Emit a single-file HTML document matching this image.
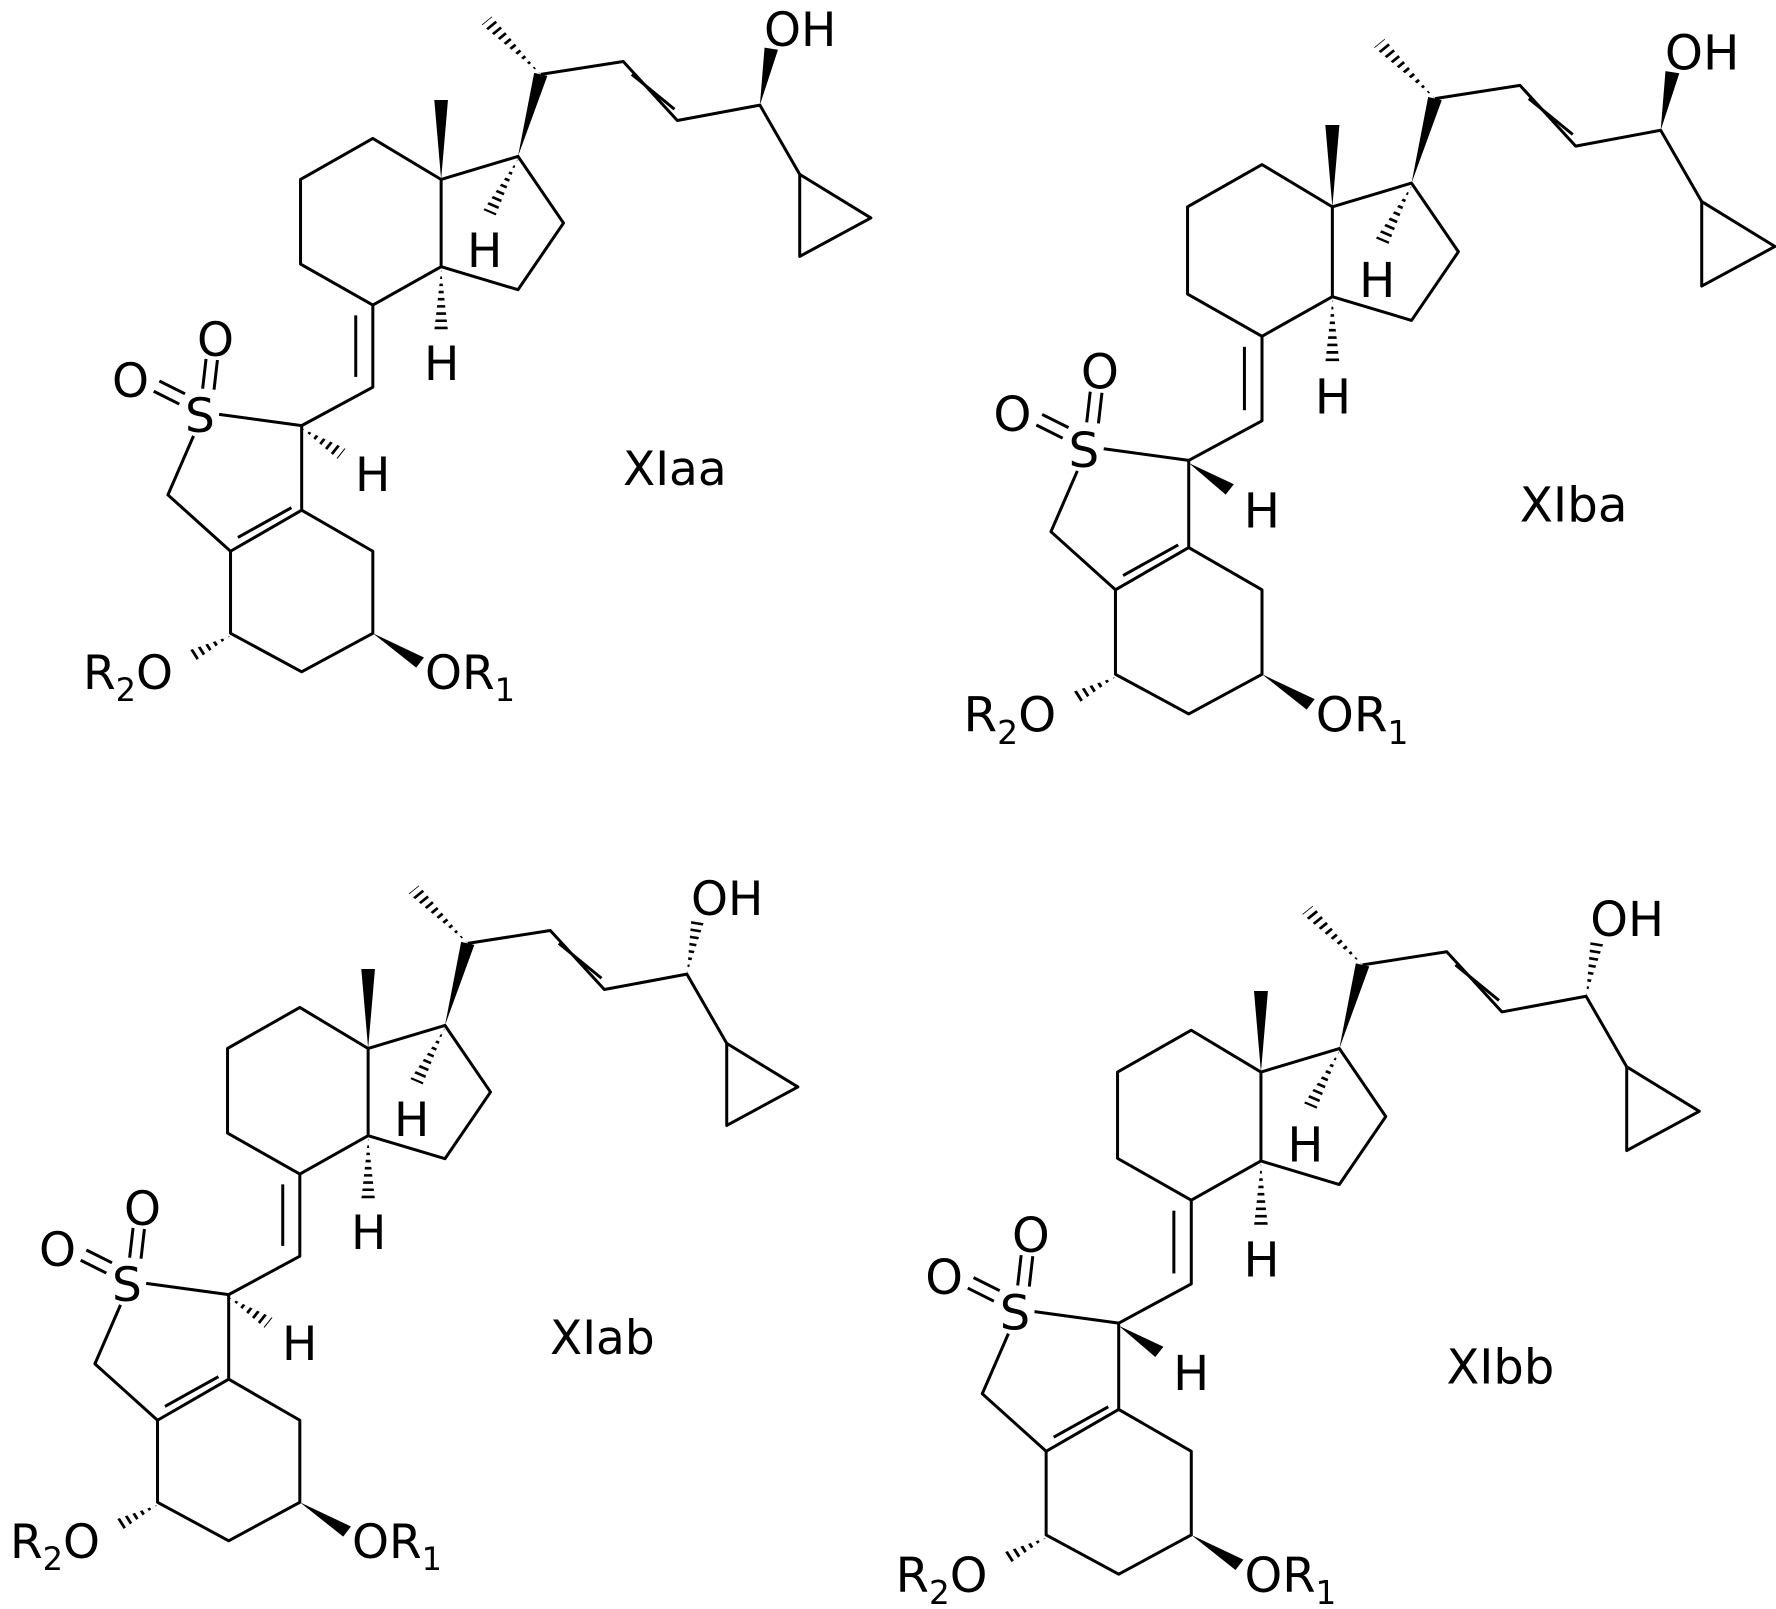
<!DOCTYPE html>
<html><head><meta charset="utf-8"><style>
html,body{margin:0;padding:0;background:#fff;}
svg{display:block;}
text{font-family:"DejaVu Sans","Liberation Sans",sans-serif;fill:#000;}
</style></head><body>
<svg width="1776" height="1609" viewBox="0 0 1776 1609" xmlns="http://www.w3.org/2000/svg">
<defs>
<clipPath id="h1"><polygon points="950,145 846.1,48.05 863.9,31.95"/></clipPath>
<clipPath id="h2"><polygon points="910,310 870.8,420.2 849.2,409.8"/></clipPath>
<clipPath id="h3"><polygon points="775,525 787,645 763,645"/></clipPath>
<clipPath id="h4"><polygon points="530,835 593,894.8 607,875.2"/></clipPath>
<clipPath id="h5"><polygon points="405,1240 341,1290.4 329,1269.6"/></clipPath>
<clipPath id="h6"><polygon points="1335,205 1366.8,97.1 1343.2,92.9"/></clipPath>
<g id="skel">
<g fill="none" stroke="#000" stroke-width="3" stroke-linejoin="round">
<path vector-effect="non-scaling-stroke" d="M950,145 L1095,120 L1190,235 L1335,205 L1405,340"/>
<path vector-effect="non-scaling-stroke" d="M1110,145 L1185,213"/>
<path vector-effect="non-scaling-stroke" d="M1405,340 L1530,425 L1405,500 Z"/>
<path vector-effect="non-scaling-stroke" d="M775,350 L910,305 L990,435 L910,565 L775,520"/>
<path vector-effect="non-scaling-stroke" d="M775,350 L655,270 L528,350 L528,515 L655,595 L775,520 L775,350"/>
<path vector-effect="non-scaling-stroke" d="M655,595 L655,755 L530,830"/>
<path vector-effect="non-scaling-stroke" d="M625,615 L625,735"/>
<path vector-effect="non-scaling-stroke" d="M385,808 L530,830"/>
<path vector-effect="non-scaling-stroke" d="M340,850 L295,965 L405,1075 L530,995 L530,830"/>
<path vector-effect="non-scaling-stroke" d="M418,1048 L512,990"/>
<path vector-effect="non-scaling-stroke" d="M530,995 L655,1075 L655,1235 L530,1310 L405,1235 L405,1075"/>
<path vector-effect="non-scaling-stroke" d="M280,743 L325,768 M270,763 L315,788"/>
<path vector-effect="non-scaling-stroke" d="M362,700 L356,758 M382,702 L376,760"/>
</g>
<g fill="#000">
<polygon points="910,305 961.6,147.9 938.4,142.1"/>
<polygon points="775,350 787,195 763,195"/>
<polygon points="655,1235 731.2,1301.9 744.8,1282.1"/>
</g>
<g stroke="#000" stroke-width="30" stroke-dasharray="5 9">
<line x1="950" y1="145" x2="855" y2="40" clip-path="url(#h1)"/>
<line x1="910" y1="310" x2="860" y2="415" clip-path="url(#h2)"/>
<line x1="775" y1="525" x2="775" y2="645" clip-path="url(#h3)"/>
<line x1="405" y1="1240" x2="335" y2="1280" clip-path="url(#h5)"/>
</g>
</g>
<polygon id="wOH" fill="#000" points="1335,205 1366.8,97.1 1343.2,92.9"/>
<line id="hOH" stroke="#000" stroke-width="30" stroke-dasharray="5 9" x1="1335" y1="205" x2="1355" y2="95" clip-path="url(#h6)"/>
<polygon id="wCH" fill="#000" points="530,835 593,894.8 607,875.2"/>
<line id="hCH" stroke="#000" stroke-width="30" stroke-dasharray="5 9" x1="530" y1="835" x2="600" y2="885" clip-path="url(#h4)"/>
</defs>

<g transform="translate(0,0)">
<g transform="scale(0.5692,0.5128)"><use href="#skel"/><use href="#wOH"/><use href="#hCH"/></g>
<g font-size="47">
<text x="764" y="46">OH</text>
<text x="467" y="267">H</text>
<text x="424" y="380">H</text>
<text x="112" y="397">O</text>
<text x="197" y="356">O</text>
<text x="185" y="432">S</text>
<text x="355" y="491">H</text>
<text x="83" y="689">R<tspan font-size="32" dy="12">2</tspan><tspan dy="-12">O</tspan></text>
<text x="425" y="689">OR<tspan font-size="32" dy="12">1</tspan></text>
<text x="623" y="485">XIaa</text>
</g></g>

<g transform="translate(878,22) scale(1.03)">
<g transform="scale(0.5692,0.5128)"><use href="#skel"/><use href="#wOH"/><use href="#wCH"/></g>
<g font-size="47">
<text x="764" y="46">OH</text>
<text x="467" y="267">H</text>
<text x="424" y="380">H</text>
<text x="112" y="397">O</text>
<text x="197" y="356">O</text>
<text x="185" y="432">S</text>
<text x="355" y="491">H</text>
<text x="83" y="689">R<tspan font-size="32" dy="12">2</tspan><tspan dy="-12">O</tspan></text>
<text x="425" y="689">OR<tspan font-size="32" dy="12">1</tspan></text>
<text x="623" y="485">XIba</text>
</g></g>

<g transform="translate(-73,869)">
<g transform="scale(0.5692,0.5128)"><use href="#skel"/><use href="#hOH"/><use href="#hCH"/></g>
<g font-size="47">
<text x="764" y="46">OH</text>
<text x="467" y="267">H</text>
<text x="424" y="380">H</text>
<text x="112" y="397">O</text>
<text x="197" y="356">O</text>
<text x="185" y="432">S</text>
<text x="355" y="491">H</text>
<text x="83" y="689">R<tspan font-size="32" dy="12">2</tspan><tspan dy="-12">O</tspan></text>
<text x="425" y="689">OR<tspan font-size="32" dy="12">1</tspan></text>
<text x="623" y="485">XIab</text>
</g></g>

<g transform="translate(811,889) scale(1.02)">
<g transform="scale(0.5692,0.5128)"><use href="#skel"/><use href="#hOH"/><use href="#wCH"/></g>
<g font-size="47">
<text x="764" y="46">OH</text>
<text x="467" y="267">H</text>
<text x="424" y="380">H</text>
<text x="112" y="397">O</text>
<text x="197" y="356">O</text>
<text x="185" y="432">S</text>
<text x="355" y="491">H</text>
<text x="83" y="689">R<tspan font-size="32" dy="12">2</tspan><tspan dy="-12">O</tspan></text>
<text x="425" y="689">OR<tspan font-size="32" dy="12">1</tspan></text>
<text x="623" y="485">XIbb</text>
</g></g>
</svg>
</body></html>
